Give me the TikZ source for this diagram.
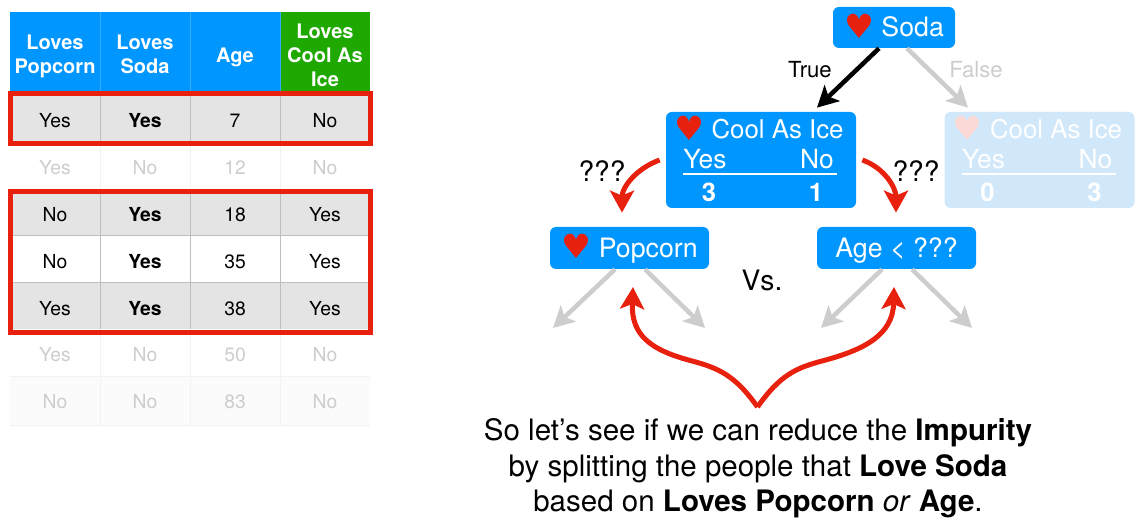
\documentclass[tikz,border=0pt]{standalone}
\usepackage{fontspec}
\usepackage{xcolor}
\usetikzlibrary{arrows.meta}
\setmainfont{TeX Gyre Heros}
\newfontfamily\heartfont{DejaVu Sans}
\definecolor{tbblue}{RGB}{0,150,255}
\definecolor{tbgreen}{RGB}{30,168,0}
\definecolor{tbred}{RGB}{232,32,14}
\definecolor{tbrow}{RGB}{228,228,228}
\definecolor{tbgrid}{RGB}{190,190,190}
\definecolor{tbfade}{RGB}{205,205,205}
\definecolor{tbpale}{RGB}{209,232,251}
\definecolor{tbpink}{RGB}{251,217,214}
\newcommand{\hrt}[1]{\raisebox{-1pt}{\heartfont\fontsize{19}{19}\selectfont\textcolor{#1}{♥}}}
\tikzset{
    headcell/.style={text=white,align=center,inner sep=0pt,
        font=\fontsize{11.4}{13.7}\selectfont\bfseries},
    celltxt/.style={inner sep=0pt,font=\fontsize{11}{12}\selectfont},
    cellbold/.style={celltxt,font=\fontsize{11}{12}\selectfont\bfseries},
    fadetxt/.style={celltxt,text=tbfade},
    treebox/.style={fill=tbblue,rounded corners=0.12cm,text=white,inner sep=0pt,
        text height=10.5pt,text depth=0pt,font=\fontsize{15.2}{17}\selectfont},
    treetxt/.style={inner sep=0pt,font=\fontsize{12.6}{15}\selectfont},
    asktxt/.style={inner sep=0pt,font=\fontsize{16}{18}\selectfont},
    blackarrow/.style={line width=0.09cm,-{Stealth[length=0.42cm,width=0.44cm,inset=0.1cm]}},
    greyarrow/.style={line width=0.09cm,tbfade,-{Stealth[length=0.42cm,width=0.44cm,inset=0.1cm]}},
    redarrow/.style={line width=0.1cm,tbred,-{Stealth[length=0.44cm,width=0.48cm,inset=0.1cm]}},
}

\begin{document}
\begin{tikzpicture}[x=1cm,y=1cm]

\useasboundingbox (0,0) rectangle (22.82,10.46);

% table
\fill[tbblue] (0.2,8.6) rectangle (5.6,10.22);
\fill[tbgreen] (5.6,8.6) rectangle (7.4,10.22);

\foreach \y in {8.55,6.68,4.81}
    \fill[tbrow] (0.2,\y) rectangle (7.4,\y-0.935);
\fill[black!1.5] (0.2,2.94) rectangle (7.4,1.96);

\foreach \x in {2.0,3.8,5.6}{
    \draw[tbgrid,thin] (\x,8.55) -- (\x,7.615);
    \draw[black!5,thin] (\x,7.615) -- (\x,6.68);
    \draw[tbgrid,thin] (\x,6.68) -- (\x,3.875);
    \draw[black!5,thin] (\x,3.875) -- (\x,1.96);
    \draw[tbblue!80!white,thin] (\x,8.6) -- (\x,10.22);
}
\foreach \y in {5.745,4.81}
    \draw[tbgrid,thin] (0.2,\y) -- (7.4,\y);
\foreach \y in {2.94,1.96}
    \draw[black!5,thin] (0.2,\y) -- (7.4,\y);

\node[headcell] (headpop) at (1.1,9.33) {Loves\\Popcorn};
\node[headcell] (headsoda) at (2.9,9.37) {Loves\\Soda};
\node[headcell] (headage) at (4.7,9.32) {Age};
\node[headcell] (headcool) at (6.5,9.35) {Loves\\Cool As\\Ice};

\foreach \n/\y/\a/\b/\c/\d/\k/\m in {
    1/8.04/Yes/Yes/7/No/celltxt/cellbold,
    2/7.10/Yes/No/12/No/fadetxt/fadetxt,
    3/6.16/No/Yes/18/Yes/celltxt/cellbold,
    4/5.22/No/Yes/35/Yes/celltxt/cellbold,
    5/4.28/Yes/Yes/38/Yes/celltxt/cellbold,
    6/3.36/Yes/No/50/No/fadetxt/fadetxt,
    7/2.42/No/No/83/No/fadetxt/fadetxt}{
    \node[\k] (pop\n) at (1.1,\y) {\a};
    \node[\m] (soda\n) at (2.9,\y) {\b};
    \node[\k] (age\n) at (4.7,\y) {\c};
    \node[\k] (ice\n) at (6.5,\y) {\d};
}

\draw[tbred,line width=0.1cm] (0.21,7.58) rectangle (7.41,8.58);
\draw[tbred,line width=0.1cm] (0.21,3.8) rectangle (7.41,6.62);

% tree
\node[treebox,minimum width=2.44cm,minimum height=0.82cm] (soda) at (17.88,9.91)
    {\hrt{tbred} Soda};

\foreach \n/\x/\l/\r/\tc/\hc/\fc in {
    cool/15.22/3/1/white/tbred/tbblue,
    pale/20.79/0/3/white/tbpink/tbpale}{
    \node[treebox,fill=\fc,minimum width=3.8cm,minimum height=1.92cm] (\n) at (\x,7.26) {};
    \node[treetxt,text=\tc,font=\fontsize{14.7}{17}\selectfont] (\n title) at (\x-0.04,7.90)
        {\hrt{\hc} Cool As Ice};
    \node[treetxt,text=\tc,font=\fontsize{15}{17}\selectfont] (\n yes) at (\x-1.12,7.28) {Yes};
    \node[treetxt,text=\tc,font=\fontsize{15}{17}\selectfont] (\n no) at (\x+1.12,7.28) {No};
    \coordinate (\n a) at (\x-1.56,6.98);
    \coordinate (\n b) at (\x+1.52,6.98);
    \draw[\tc,line width=0.05cm] (\n a) -- (\n b);
    \node[treetxt,text=\tc,font=\fontsize{14.6}{17}\selectfont\bfseries] (\n l) at (\x-1.04,6.62) {\l};
    \node[treetxt,text=\tc,font=\fontsize{14.6}{17}\selectfont\bfseries] (\n r) at (\x+1.1,6.62) {\r};
}

\node[treebox,minimum width=3.18cm,minimum height=0.84cm] (popcorn) at (12.59,5.5)
    {\hrt{tbred} Popcorn};
\node[treebox,minimum width=3.18cm,minimum height=0.84cm] (agebox) at (17.93,5.5)
    {Age < ???};

\draw[blackarrow] ([xshift=-0.3cm]soda.south) -- ([xshift=1.12cm,yshift=0.08cm]cool.north);
\draw[greyarrow] ([xshift=0.26cm]soda.south) -- ([xshift=-1.43cm,yshift=0.08cm]pale.north);

\node[treetxt] (truelab) at (16.2,9.06) {True};
\node[treetxt,text=tbfade] (falselab) at (19.52,9.06) {False};

\draw[redarrow] ([xshift=-0.12cm]cool.west) to[out=200,in=90] ([xshift=-0.15cm,yshift=0.28cm]popcorn.north);
\draw[redarrow] ([xshift=0.12cm]cool.east) to[out=-20,in=90] ([xshift=-0.01cm,yshift=0.28cm]agebox.north);

\node[asktxt] (askl) at (12.04,7.04) {???};
\node[asktxt] (askr) at (18.32,7.04) {???};
\node[asktxt] (versus) at (15.24,4.86) {Vs.};

\coordinate (popl) at (11.06,3.9);
\coordinate (popr) at (14.1,3.9);
\coordinate (agel) at (16.42,3.9);
\coordinate (ager) at (19.44,3.9);

\draw[greyarrow] ([xshift=-0.29cm]popcorn.south) -- (popl);
\draw[greyarrow] ([xshift=0.31cm]popcorn.south) -- (popr);
\draw[greyarrow] ([xshift=-0.29cm]agebox.south) -- (agel);
\draw[greyarrow] ([xshift=0.31cm]agebox.south) -- (ager);

% fork under the two candidates
\coordinate (fork) at (15.15,2.32);
\coordinate (forkl) at (12.66,4.72);
\coordinate (forkr) at (17.88,4.72);

\draw[redarrow] (fork) .. controls (14.7,2.96) and (14.36,3.10) .. (13.84,3.24)
    .. controls (13.0,3.46) and (12.62,3.76) .. (forkl);
\draw[redarrow] (fork) .. controls (15.6,2.96) and (15.92,3.10) .. (16.44,3.24)
    .. controls (17.28,3.46) and (17.86,3.76) .. (forkr);

\node[align=center,inner sep=0pt,font=\fontsize{16.8}{20.2}\selectfont] (summary) at (15.16,1.09)
    {So let’s see if we can reduce the \textbf{Impurity}\\
     by splitting the people that \textbf{Love Soda}\\
     based on \textbf{Loves Popcorn} \textit{or} \textbf{Age}.};

\end{tikzpicture}
\end{document}
